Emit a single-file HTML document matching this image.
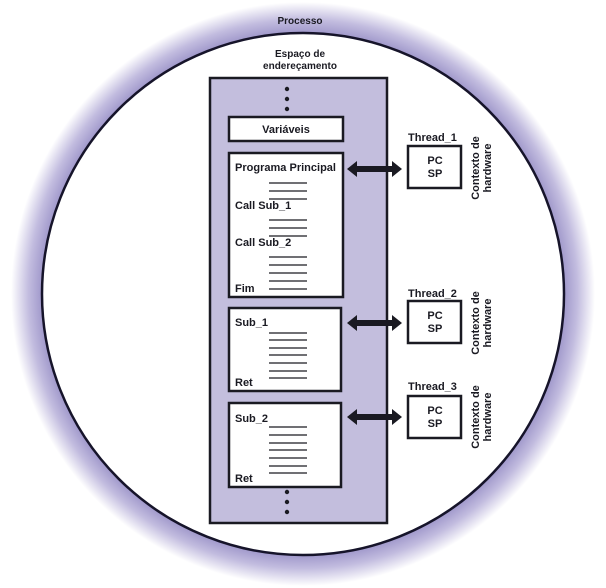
<!DOCTYPE html>
<html><head><meta charset="utf-8"><style>
html,body{margin:0;padding:0;background:#fff;}
svg{display:block;}
text{font-family:"Liberation Sans",sans-serif;font-weight:bold;fill:#1a1a22;}
</style></head><body>
<svg width="606" height="588" viewBox="0 0 606 588">
<defs>
<radialGradient id="g" cx="303" cy="294" r="292" gradientUnits="userSpaceOnUse">
<stop offset="0.89" stop-color="#9d95c9"/>
<stop offset="0.94" stop-color="#c2bcdf"/>
<stop offset="1" stop-color="#ffffff"/>
</radialGradient>
</defs>
<rect width="606" height="588" fill="#fff"/>
<circle cx="303" cy="294" r="292" fill="url(#g)"/>
<circle cx="303" cy="294" r="261" fill="#fff" stroke="#16142a" stroke-width="2.5"/>
<text x="300" y="24" font-size="10" text-anchor="middle">Processo</text>
<text x="300" y="57" font-size="10" text-anchor="middle">Espaço de</text>
<text x="300" y="69" font-size="10" text-anchor="middle">endereçamento</text>
<rect x="210" y="78" width="177" height="445" fill="#c3bedd" stroke="#1a1a22" stroke-width="2.5"/>
<g fill="#1a1a22">
<circle cx="287" cy="89" r="2.2"/><circle cx="287" cy="99" r="2.2"/><circle cx="287" cy="109" r="2.2"/>
<circle cx="287" cy="492" r="2.2"/><circle cx="287" cy="502" r="2.2"/><circle cx="287" cy="512" r="2.2"/>
</g>
<g fill="#fff" stroke="#1a1a22" stroke-width="2.5">
<rect x="229" y="117" width="114" height="24"/>
<rect x="229" y="153" width="114" height="144"/>
<rect x="229" y="308" width="112" height="83"/>
<rect x="229" y="403" width="112" height="84"/>
<rect x="408" y="146" width="53" height="42"/>
<rect x="408" y="301" width="53" height="42"/>
<rect x="408" y="396" width="53" height="42"/>
</g>
<text x="286" y="133" font-size="11" text-anchor="middle">Variáveis</text>
<text x="235" y="171" font-size="11" textLength="101" lengthAdjust="spacingAndGlyphs">Programa Principal</text>
<text x="235" y="209" font-size="11">Call Sub_1</text>
<text x="235" y="246" font-size="11">Call Sub_2</text>
<text x="235" y="292" font-size="11">Fim</text>
<text x="235" y="326" font-size="11">Sub_1</text>
<text x="235" y="386" font-size="11">Ret</text>
<text x="235" y="422" font-size="11">Sub_2</text>
<text x="235" y="482" font-size="11">Ret</text>
<g stroke="#1a1a22" stroke-width="1.3">
<path d="M269 183H307M269 191H307M269 199H307"/>
<path d="M269 220H307M269 228H307M269 236H307"/>
<path d="M269 257H307M269 265H307M269 273H307M269 281H307M269 289H307"/>
<path d="M269 333H307M269 340H307M269 348H307M269 355H307M269 363H307M269 371H307M269 378H307"/>
<path d="M269 427H307M269 435H307M269 443H307M269 450H307M269 458H307M269 466H307M269 473H307"/>
</g>
<g fill="#1a1a22">
<path d="M347 169l10-8v5h35v-5l10 8-10 8v-5h-35v5z"/>
<path d="M347 323l10-8v5h35v-5l10 8-10 8v-5h-35v5z"/>
<path d="M347 417l10-8v5h35v-5l10 8-10 8v-5h-35v5z"/>
</g>
<text x="408" y="141" font-size="11">Thread_1</text>
<text x="408" y="297" font-size="11">Thread_2</text>
<text x="408" y="390" font-size="11">Thread_3</text>
<g font-size="11" text-anchor="middle">
<text x="435" y="164">PC</text><text x="435" y="177">SP</text>
<text x="435" y="319">PC</text><text x="435" y="332">SP</text>
<text x="435" y="414">PC</text><text x="435" y="427">SP</text>
</g>
<g font-size="11" text-anchor="middle">
<text transform="translate(479,168) rotate(-90)">Contexto de</text>
<text transform="translate(491,168) rotate(-90)">hardware</text>
<text transform="translate(479,323) rotate(-90)">Contexto de</text>
<text transform="translate(491,323) rotate(-90)">hardware</text>
<text transform="translate(479,417) rotate(-90)">Contexto de</text>
<text transform="translate(491,417) rotate(-90)">hardware</text>
</g>
</svg>
</body></html>
